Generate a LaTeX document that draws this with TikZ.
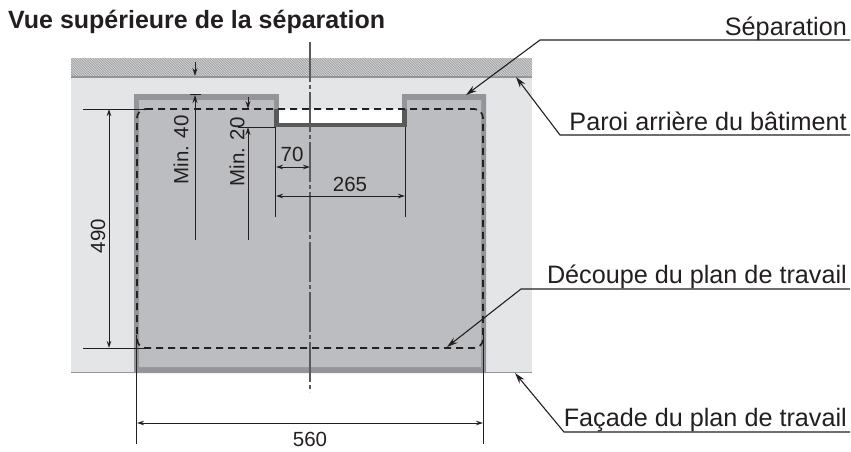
\documentclass[tikz,border=0pt]{standalone}
\usepackage{fontspec}
\setmainfont{Liberation Sans}
\usetikzlibrary{arrows.meta}
\definecolor{ink}{HTML}{231F20}
\definecolor{lightwall}{HTML}{E4E5E7}
\definecolor{bodygray}{HTML}{BCBDC0}
\definecolor{bordergray}{HTML}{939598}
\definecolor{darkband}{HTML}{58595B}
\definecolor{hatchdark}{HTML}{97989B}
\definecolor{hatchlight}{HTML}{CFD0D2}
\tikzset{
  x=1pt,y=-1pt,
  thinline/.style={draw=ink,line width=1pt},
  dimline/.style={draw=ink,line width=1pt,{Stealth[length=7pt,width=4.5pt]}-{Stealth[length=7pt,width=4.5pt]}},
  onearrow/.style={draw=ink,line width=1pt,-{Stealth[length=8pt,width=5pt]}},
  leader/.style={draw=ink,line width=1.1pt,-{Stealth[length=11pt,width=6.5pt]}},
  dimtext/.style={font=\fontsize{20.5}{20.5}\selectfont,text=ink,inner sep=0pt},
  labeltext/.style={font=\fontsize{25.2}{25.2}\selectfont,text=ink,inner sep=0pt,anchor=base east},
  cut/.style={draw=ink,line width=1.7pt,dash pattern=on 7pt off 5pt},
}
\begin{document}
\begin{tikzpicture}
\useasboundingbox (0,0) rectangle (851,451);
% wall hatch
\fill[hatchlight] (71,58) rectangle (532,77);
\begin{scope}
\clip (71,58) rectangle (532,77);
\foreach \k in {50,52.5,...,540} {\draw[hatchdark,line width=0.7pt] (\k,58) -- (\k+19,77);}
\end{scope}
% floor area
\fill[lightwall] (71,77) rectangle (532,373);
\draw[bordergray,line width=1.4pt] (71,77) -- (532,77);
\draw[bordergray,line width=1.4pt] (71,372.5) -- (532,372.5);
% partition body
\fill[bordergray] (134,94) -- (279,94) -- (279,127) -- (402,127) -- (402,94) -- (486,94) -- (486,373) -- (134,373) -- cycle;
\fill[bodygray] (139,100) -- (274,100) -- (274,127) -- (407,127) -- (407,100) -- (481,100) -- (481,367) -- (139,367) -- cycle;
\fill[lightwall] (279,94) rectangle (402,109);
\fill[white] (279,109) rectangle (402,123);
\fill[darkband] (274,123) rectangle (407,127);
\fill[darkband] (274,109) rectangle (279,123);
\fill[darkband] (402,109) rectangle (407,123);
% centre line
\coordinate (ctop) at (310,42);
\coordinate (cbot) at (310,392);
\draw[draw=darkband,line width=1.3pt,dash pattern=on 40pt off 3pt on 4pt off 3pt] (ctop) -- (cbot);
% worktop cut-out
\draw[cut] (146,109) -- (474,109) to[out=0,in=90] (483,118) -- (483,339) to[out=-90,in=0] (474,348) -- (146,348) to[out=180,in=-90] (137,339) -- (137,118) to[out=90,in=180] (146,109);
% 490
\coordinate (e1a) at (83,109); \coordinate (e1b) at (147,109);
\coordinate (e2a) at (83,348); \coordinate (e2b) at (147,348);
\draw[thinline] (e1a) -- (e1b);
\draw[thinline] (e2a) -- (e2b);
\coordinate (d490a) at (109,109); \coordinate (d490b) at (109,348);
\draw[dimline] (d490a) -- (d490b);
\node[dimtext,rotate=90] (t490) at (98,236) {490};
% Min. 40
\coordinate (m40top) at (195,62); \coordinate (m40tip) at (195,76);
\coordinate (m40bot) at (195,240); \coordinate (m40tip2) at (195,95);
\draw[onearrow] (m40top) -- (m40tip);
\draw[onearrow] (m40bot) -- (m40tip2);
\coordinate (t40a) at (190,94); \coordinate (t40b) at (201,94);
\draw[thinline] (t40a) -- (t40b);
\node[dimtext,rotate=90] (tm40) at (181,150) {Min. 40};
% Min. 20
\coordinate (m20top) at (248,97); \coordinate (m20tip) at (248,109);
\coordinate (m20bot) at (248,240); \coordinate (m20tip2) at (248,127);
\draw[onearrow] (m20top) -- (m20tip);
\draw[onearrow] (m20bot) -- (m20tip2);
\node[dimtext,rotate=90] (tm20) at (237,152) {Min. 20};
% notch extension lines
\coordinate (x0) at (238,127); \coordinate (x1) at (276,127);
\draw[thinline] (x0) -- (x1);
\coordinate (l1a) at (275.5,127); \coordinate (l1b) at (275.5,217);
\coordinate (l2a) at (405.5,127); \coordinate (l2b) at (405.5,217);
\draw[thinline] (l1a) -- (l1b);
\draw[thinline] (l2a) -- (l2b);
% 70, 265
\coordinate (d70a) at (276,167); \coordinate (d70b) at (310,167);
\draw[dimline] (d70a) -- (d70b);
\node[dimtext] (t70) at (292,154) {70};
\coordinate (d265a) at (276,196); \coordinate (d265b) at (405,196);
\draw[dimline] (d265a) -- (d265b);
\node[dimtext] (t265) at (350,184) {265};
% 560
\coordinate (l3a) at (136.5,335); \coordinate (l3b) at (136.5,444);
\coordinate (l4a) at (483.5,335); \coordinate (l4b) at (483.5,444);
\draw[thinline] (l3a) -- (l3b);
\draw[thinline] (l4a) -- (l4b);
\coordinate (d560a) at (137,423); \coordinate (d560b) at (483,423);
\draw[dimline] (d560a) -- (d560b);
\node[dimtext] (t560) at (310,439) {560};
% title
\node[font=\bfseries\fontsize{25}{25}\selectfont,text=ink,inner sep=0pt,anchor=base west] (title) at (8,28) {Vue supérieure de la séparation};
% labels and leaders
\node[labeltext] (lsep) at (847,35) {Séparation};
\coordinate (lsepa) at (850,40); \coordinate (lsepb) at (540,40); \coordinate (lsepc) at (466,95);
\draw[leader] (lsepa) -- (lsepb) -- (lsepc);
\node[labeltext] (lpar) at (847,130) {Paroi arrière du bâtiment};
\coordinate (lpara) at (850,135); \coordinate (lparb) at (560,135); \coordinate (lparc) at (516,77);
\draw[leader] (lpara) -- (lparb) -- (lparc);
\node[labeltext] (ldec) at (847,283) {Découpe du plan de travail};
\coordinate (ldeca) at (850,289); \coordinate (ldecb) at (521,289); \coordinate (ldecc) at (447,347);
\draw[leader] (ldeca) -- (ldecb) -- (ldecc);
\node[labeltext] (lfac) at (847,426) {Façade du plan de travail};
\coordinate (lfaca) at (850,432); \coordinate (lfacb) at (564,432); \coordinate (lfacc) at (515,373);
\draw[leader] (lfaca) -- (lfacb) -- (lfacc);
\end{tikzpicture}
\end{document}
